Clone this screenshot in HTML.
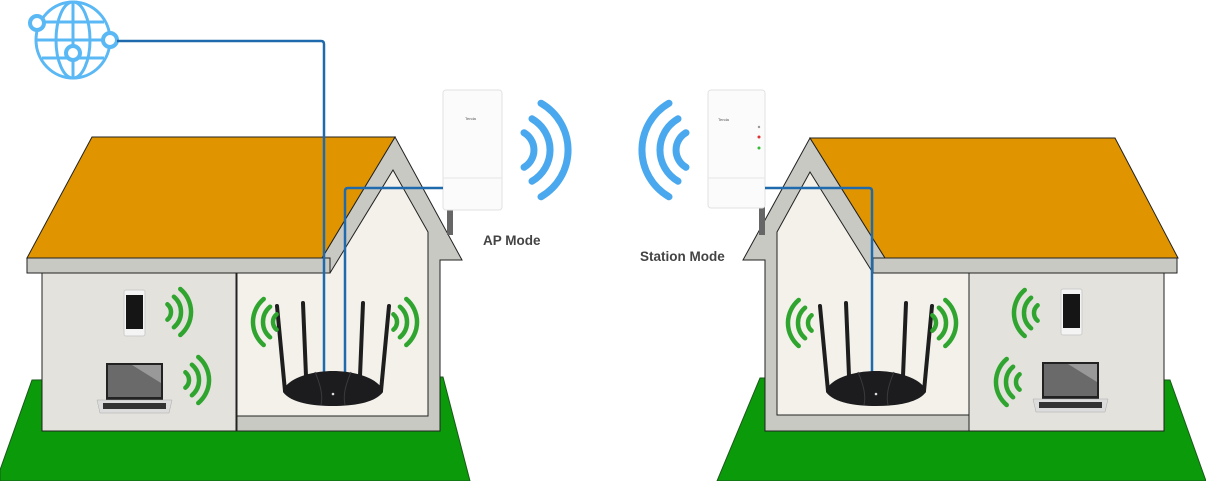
<!DOCTYPE html>
<html><head><meta charset="utf-8"><style>
html,body{margin:0;padding:0;background:#fff;}
svg{display:block;}
</style></head><body>
<svg width="1206" height="481" viewBox="0 0 1206 481" xmlns="http://www.w3.org/2000/svg">
<defs>
<g id="gw" fill="none" stroke="#2fa52f" stroke-width="4.5" stroke-linecap="round">
<path d="M6.4,-7.7 A10 10 0 0 1 6.4,7.7"/>
<path d="M12.9,-15.3 A20 20 0 0 1 12.9,15.3"/>
<path d="M19.3,-23 A30 30 0 0 1 19.3,23"/>
</g>
<g id="bw" fill="none" stroke="#4aa8ee" stroke-width="7" stroke-linecap="round">
<path d="M10,-17.3 A20 20 0 0 1 10,17.3"/>
<path d="M18,-31.2 A36 36 0 0 1 18,31.2"/>
<path d="M27,-46.8 A54 54 0 0 1 27,46.8"/>
</g>
<g id="router">
<g stroke="#1e1e1e" stroke-width="4" stroke-linecap="round">
<line x1="-56" y1="-80" x2="-48" y2="5"/>
<line x1="-30" y1="-83" x2="-27" y2="-10"/>
<line x1="30" y1="-83" x2="27" y2="-10"/>
<line x1="56" y1="-80" x2="48" y2="5"/>
</g>
<path d="M-50,6 C-48,-6 -25,-15 0,-15 C25,-15 48,-6 50,6 C42,17 20,20 0,20 C-20,20 -42,17 -50,6Z" fill="#1c1c1e"/>
<path d="M-18,-14 C-12,0 -10,10 -12,19 M18,-14 C12,0 10,10 12,19" stroke="#3a3a3c" stroke-width="1" fill="none"/>
<circle cx="0" cy="8" r="1.3" fill="#ddd"/>
</g>
<g id="phone">
<rect x="0" y="0" width="21" height="46" rx="2" fill="#f4f4f4" stroke="#ccc"/>
<rect x="2" y="5" width="17" height="34" fill="#151515"/>
</g>
<g id="laptop">
<rect x="9" y="0" width="57" height="37" fill="#222"/>
<rect x="11" y="2" width="53" height="32" fill="#6a6a6a"/>
<path d="M35,2 L64,2 L64,20 Z" fill="#999"/>
<path d="M0,37 L75,37 L72,50 L3,50 Z" fill="#dcdcdc" stroke="#aaa" stroke-width="0.5"/>
<rect x="6" y="40" width="63" height="6" fill="#333"/>
</g>
</defs>

<!-- LEFT HOUSE -->
<polygon points="32,380 443,377 470,481 0,481 0,470" fill="#0a9a0a" stroke="#1a5a1a" stroke-width="1"/>
<polygon points="395,137 462,260 440,260 440,431 237,431 237,273 330,273 322,258" fill="#c9c9c4" stroke="#222" stroke-width="1"/>
<polygon points="393,170 428,232 428,416 237,416 237,273 330,273" fill="#f3f1ea" stroke="#222" stroke-width="1"/>
<rect x="42" y="273" width="194" height="158" fill="#e4e2dc" stroke="#222" stroke-width="1"/>
<polygon points="92,137 395,137 322,258 27,258" fill="#e09500" stroke="#222" stroke-width="1"/>
<rect x="27" y="258" width="303" height="15" fill="#c9c9c4" stroke="#222" stroke-width="1"/>

<!-- RIGHT HOUSE -->
<polygon points="760,378 1170,380 1206,481 717,481" fill="#0a9a0a" stroke="#1a5a1a" stroke-width="1"/>
<polygon points="810,138 885,258 885,273 969,273 969,431 765,431 765,260 743,260" fill="#c9c9c4" stroke="#222" stroke-width="1"/>
<polygon points="810,172 873,273 969,273 969,415 777,415 777,232" fill="#f3f1ea" stroke="#222" stroke-width="1"/>
<rect x="969" y="273" width="195" height="158" fill="#e4e2dc" stroke="#222" stroke-width="1"/>
<polygon points="810,138 1115,138 1178,258 885,258" fill="#e09500" stroke="#222" stroke-width="1"/>
<rect x="873" y="258" width="304" height="15" fill="#c9c9c4" stroke="#222" stroke-width="1"/>

<!-- AP devices -->
<rect x="447" y="205" width="6" height="30" fill="#666"/>
<rect x="443" y="90" width="59" height="120" rx="3" fill="#fbfbfb" stroke="#e2e2e2"/>
<line x1="443" y1="178" x2="502" y2="178" stroke="#e6e6e6"/>
<text x="465" y="120" font-family="Liberation Sans, sans-serif" font-size="4" fill="#555">Tenda</text>
<rect x="759" y="205" width="6" height="30" fill="#666"/>
<rect x="708" y="90" width="57" height="118" rx="3" fill="#fbfbfb" stroke="#e2e2e2"/>
<line x1="708" y1="178" x2="765" y2="178" stroke="#e6e6e6"/>
<text x="718" y="121" font-family="Liberation Sans, sans-serif" font-size="4" fill="#555">Tenda</text>
<circle cx="759" cy="127" r="1.2" fill="#999"/>
<circle cx="759" cy="137" r="1.5" fill="#d33"/>
<circle cx="759" cy="148" r="1.5" fill="#3b3"/>

<use href="#bw" transform="translate(514,150)"/>
<use href="#bw" transform="translate(696,150) scale(-1,1)"/>

<text x="483" y="245" font-family="Liberation Sans, sans-serif" font-size="13.5" font-weight="bold" fill="#444">AP Mode</text>
<text x="640" y="261" font-family="Liberation Sans, sans-serif" font-size="13.5" font-weight="bold" fill="#444">Station Mode</text>

<!-- globe -->
<g fill="none" stroke="#5ab8f5" stroke-width="3">
<ellipse cx="73" cy="40" rx="37" ry="38"/>
<ellipse cx="73" cy="40" rx="17" ry="38"/>
<line x1="73" y1="2" x2="73" y2="78"/>
<line x1="36" y1="40" x2="110" y2="40"/>
<line x1="42" y1="22" x2="104" y2="22"/>
<line x1="42" y1="58" x2="104" y2="58"/>
</g>
<g fill="#fff" stroke="#5ab8f5" stroke-width="4">
<circle cx="37" cy="23" r="7"/>
<circle cx="110" cy="40" r="7"/>
<circle cx="73" cy="53" r="7"/>
</g>

<!-- cables -->
<path d="M117,41 L321,41 Q324,41 324,44 L324,372" fill="none" stroke="#1f6aad" stroke-width="2.5"/>
<path d="M443,188 L348,188 Q345,188 345,191 L345,372" fill="none" stroke="#1f6aad" stroke-width="2.5"/>
<path d="M765,188 L869,188 Q872,188 872,191 L872,372" fill="none" stroke="#1f6aad" stroke-width="2.5"/>

<!-- routers -->
<use href="#router" transform="translate(333,386)"/>
<use href="#router" transform="translate(876,386)"/>

<!-- devices -->
<use href="#phone" transform="translate(124,290)"/>
<use href="#laptop" transform="translate(97,363)"/>
<use href="#phone" transform="translate(1061,289)"/>
<use href="#laptop" transform="translate(1033,362)"/>

<!-- green wifi -->
<use href="#gw" transform="translate(161,312)"/>
<use href="#gw" transform="translate(179,380)"/>
<use href="#gw" transform="translate(283,322) scale(-1,1)"/>
<use href="#gw" transform="translate(387,322)"/>
<use href="#gw" transform="translate(818,323) scale(-1,1)"/>
<use href="#gw" transform="translate(926,323)"/>
<use href="#gw" transform="translate(1044,313) scale(-1,1)"/>
<use href="#gw" transform="translate(1026,382) scale(-1,1)"/>
</svg>
</body></html>
